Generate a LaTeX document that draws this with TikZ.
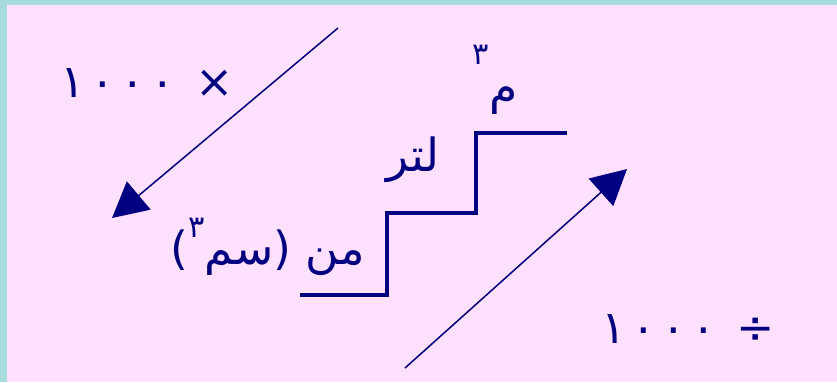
\documentclass[tikz,border=0pt]{standalone}
\usepackage{fontspec}
\newfontfamily\arabicfont[Script=Arabic]{DejaVu Sans}
\TeXXeTstate=1
\usetikzlibrary{arrows.meta}
\definecolor{navy}{HTML}{000080}
\definecolor{pinkbg}{HTML}{FFE0FF}
\definecolor{cyanbg}{HTML}{A8DCDC}
\begin{document}
\begin{tikzpicture}[x=0.03cm, y=-0.03cm,
    lbl/.style={text=navy, font=\arabicfont\fontsize{39}{45}\selectfont, inner sep=0pt},
    numlbl/.style={lbl, font=\arabicfont\fontsize{39}{45}\selectfont\addfontfeature{LetterSpace=12}},
    convarrow/.style={draw=navy, line width=1.3pt, -{Triangle[length=1.05cm, width=1.1cm]}}]
    % Background
    \fill[cyanbg] (0,0) rectangle (837,382);
    \fill[pinkbg] (7,5) rectangle (837,382);
    \useasboundingbox (0,0) rectangle (837,382);

    % Staircase
    \draw[navy, line width=3.4pt] (300,295) -- (387,295) -- (387,213) -- (476,213) -- (476,133) -- (567,133);

    % Labels
    \node[numlbl] (times) at (147, 83) {\beginR ×\ \beginL١٠٠٠\endL\endR};
    \node[numlbl] (divide) at (688, 329) {\beginR ÷\ \beginL١٠٠٠\endL\endR};
    \node[lbl] (cubicm) at (495, 80) {\beginR م\raisebox{0.85em}{\fontsize{26}{30}\selectfont ٣}\endR};
    \node[lbl] (litre) at (413, 160) {\beginR لتر\endR};
    \node[lbl] (cubiccm) at (268, 247) {\beginR من (سم\raisebox{0.6em}{\fontsize{26}{30}\selectfont ٣})\endR};

    % Arrows
    \coordinate (downstart) at (338, 28);
    \coordinate (downend) at (112, 218);
    \coordinate (upstart) at (405, 368);
    \coordinate (upend) at (627, 169);
    \draw[convarrow] (downstart) -- (downend);
    \draw[convarrow] (upstart) -- (upend);
\end{tikzpicture}
\end{document}
